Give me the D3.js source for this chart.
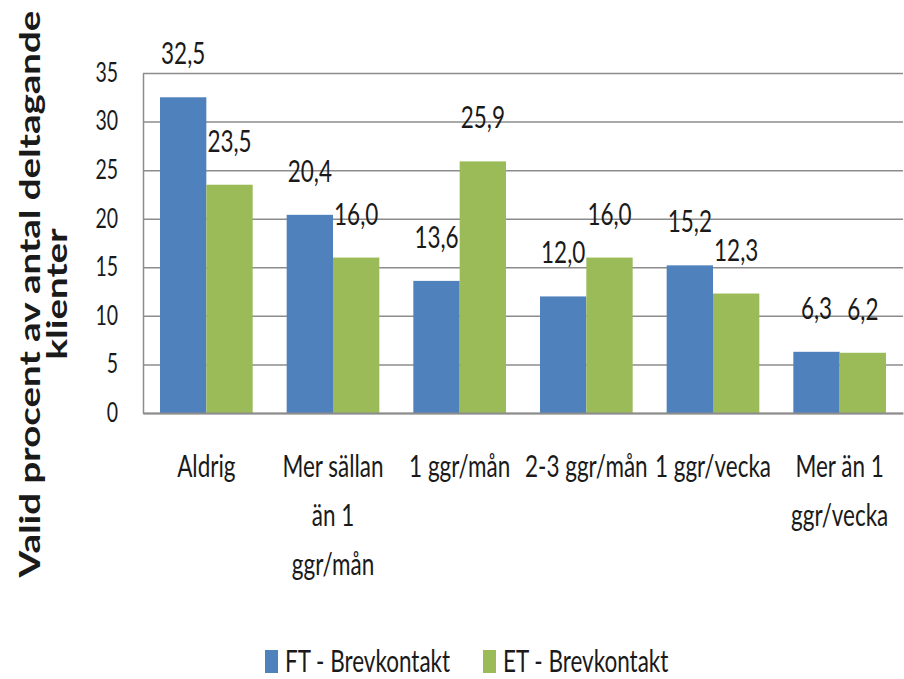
<!DOCTYPE html>
<html>
<head>
<meta charset="utf-8">
<script src="https://cdn.jsdelivr.net/npm/d3@7"></script>
<style>
  body { margin: 0; background: #fff; }
  text { font-family: Lato, "Liberation Sans", sans-serif; fill: #1a1a1a; }
</style>
</head>
<body>
<svg id="chart" width="904" height="679"></svg>
<script>
// data
const categories = ["Aldrig", "Mer sällan än 1 ggr/mån", "1 ggr/mån", "2-3 ggr/mån", "1 ggr/vecka", "Mer än 1 ggr/vecka"];
const categoryLines = [["Aldrig"], ["Mer sällan", "än 1", "ggr/mån"], ["1 ggr/mån"], ["2-3 ggr/mån"], ["1 ggr/vecka"], ["Mer än 1", "ggr/vecka"]];
const seriesNames = ["FT - Brevkontakt", "ET - Brevkontakt"];
const ftValues = [32.5, 20.4, 13.6, 12.0, 15.2, 6.3];
const etValues = [23.5, 16.0, 25.9, 16.0, 12.3, 6.2];
const yTicks = [0, 5, 10, 15, 20, 25, 30, 35];
const colors = ["#4F81BD", "#9BBB59"];

const SX = 0.75;   // the whole picture is squeezed sideways
const svg = d3.select("#chart");

const plot = { left: 143, right: 903, top: 73, bottom: 413 };
const plotW = plot.right - plot.left;

const y = d3.scaleLinear().domain([0, 35]).range([plot.bottom, plot.top]);
const x0 = d3.scaleBand().domain(categories).range([plot.left, plot.right]);
const pad = 17;
const x1 = d3.scaleBand().domain(seriesNames).range([pad, x0.bandwidth() - pad]);

const rows = categories.map((c, i) => ({ cat: c, vals: [ftValues[i], etValues[i]] }));

// y axis with gridlines
const yAxis = svg.append("g")
  .attr("transform", `translate(${plot.left},0)`)
  .call(d3.axisLeft(y).tickValues(yTicks).tickSizeInner(-plotW).tickSizeOuter(0).tickPadding(25));
yAxis.select(".domain").attr("stroke", "#8c8c8c").attr("stroke-width", 1.5);
yAxis.selectAll(".tick line").attr("stroke", "#8c8c8c").attr("stroke-width", 1.5);
yAxis.selectAll(".tick text")
  .attr("x", null)
  .attr("transform", `translate(-25,0) scale(${SX},1)`)
  .attr("font-family", "Lato, 'Liberation Sans', sans-serif")
  .attr("font-size", 26)
  .attr("fill", "#1a1a1a");

// bars
const groups = svg.append("g").selectAll("g")
  .data(rows).enter().append("g")
  .attr("transform", d => `translate(${x0(d.cat)},0)`);

groups.selectAll("rect")
  .data(d => d.vals.map((v, i) => ({ name: seriesNames[i], v, i })))
  .enter().append("rect")
  .attr("x", d => x1(d.name))
  .attr("y", d => y(d.v))
  .attr("width", x1.bandwidth())
  .attr("height", d => y(0) - y(d.v))
  .attr("fill", d => colors[d.i]);

// value labels
groups.selectAll("text.val")
  .data(d => d.vals.map((v, i) => ({ name: seriesNames[i], v, i })))
  .enter().append("text")
  .attr("class", "val")
  .attr("text-anchor", "middle")
  .attr("font-size", 30)
  .attr("transform", d => `translate(${x1(d.name) + x1.bandwidth() / 2},${y(d.v) - 33}) scale(${SX},1)`)
  .text(d => d.v.toFixed(1).replace(".", ","));

// x axis line
const xAxis = svg.append("g")
  .attr("transform", `translate(0,${plot.bottom})`)
  .call(d3.axisBottom(x0).tickSize(0).tickFormat(""));
xAxis.select(".domain").attr("stroke", "#8c8c8c").attr("stroke-width", 2);

// category labels, wrapped like the original
categories.forEach((c, i) => {
  categoryLines[i].forEach((line, j) => {
    svg.append("text")
      .attr("text-anchor", "middle")
      .attr("font-size", 30)
      .attr("transform", `translate(${x0(c) + x0.bandwidth() / 2},${477 + j * 49}) scale(${SX},1)`)
      .text(line);
  });
});

// y axis title
const yTitle = ["Valid procent av antal deltagande", "klienter"];
yTitle.forEach((t, j) => {
  svg.append("text")
    .attr("text-anchor", "middle")
    .attr("font-family", "'Liberation Sans', Arial, sans-serif")
    .attr("font-weight", "bold")
    .attr("font-size", 38.5)
    .attr("transform", `translate(${40 + j * 27},294) scale(${SX},1) rotate(-90)`)
    .text(t);
});

// legend
const legend = svg.append("g").attr("transform", "translate(265,650)");
seriesNames.forEach((s, i) => {
  const xOff = i * 218;
  legend.append("rect")
    .attr("x", xOff).attr("y", 0)
    .attr("width", 13).attr("height", 23)
    .attr("fill", colors[i]);
  legend.append("text")
    .attr("font-size", 30)
    .attr("transform", `translate(${xOff + 20},22) scale(${SX},1)`)
    .text(s);
});
</script>
</body>
</html>
